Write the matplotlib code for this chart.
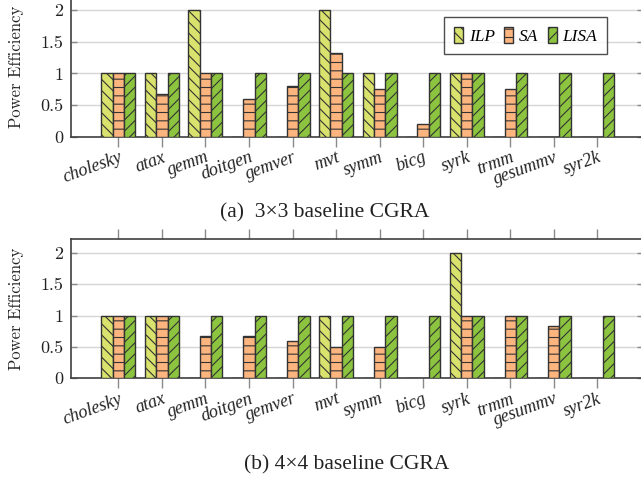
import numpy as np
import matplotlib
matplotlib.use("Agg")
from matplotlib import pyplot as plt
from matplotlib.transforms import ScaledTranslation

kernels = ["cholesky", "atax", "gemm", "doitgen", "gemver", "mvt",
           "symm", "bicg", "syrk", "trmm", "gesummv", "syr2k"]

# (a) 3x3 baseline CGRA
ilp_3x3 = [1, 1, 2, 0, 0, 2, 1, 0, 1, 0, 0, 0]
sa_3x3 = [1, 0.67, 1, 0.6, 0.8, 1.33, 0.75, 0.2, 1, 0.75, 0, 0]
lisa_3x3 = [1, 1, 1, 1, 1, 1, 1, 1, 1, 1, 1, 1]

# (b) 4x4 baseline CGRA
ilp_4x4 = [1, 1, 0, 0, 0, 1, 0, 0, 2, 0, 0, 0]
sa_4x4 = [1, 1, 0.67, 0.67, 0.6, 0.5, 0.5, 0, 1, 1, 0.83, 0]
lisa_4x4 = [1, 1, 1, 1, 1, 1, 1, 1, 1, 1, 1, 1]

yticks = [0, 0.5, 1, 1.5, 2]
ytick_labels = ["0", "0.5", "1", "1.5", "2"]

series = ["ILP", "SA", "LISA"]
colors = ["#d8e26c", "#fcb57f", "#8cc43f"]
hatches = ["\\\\\\", "--", "///"]

plt.rcParams["hatch.linewidth"] = 0.8
plt.rcParams["hatch.color"] = "#333333"

W, H = 641, 484
fig = plt.figure(figsize=(W / 100, H / 100), dpi=100)

edge = "#333333"
spine_col = "#404040"
tick_col = "#8a8a8a"
x = np.arange(len(kernels))
bw = 0.26


def panel(ax, data):
    for i, (vals, col, h, name) in enumerate(zip(data, colors, hatches, series)):
        ax.bar(x + (i - 1) * bw, vals, bw, color=col, edgecolor=edge,
               linewidth=1.0, hatch=h, label=name, zorder=3)
    ax.set_xlim(-1.1, 12.05)
    ax.set_ylim(0, 2.22)
    ax.set_yticks(yticks)
    ax.set_yticklabels(ytick_labels, fontfamily="cmr10", fontsize=13)
    ax.set_xticks(x)
    ax.set_xticklabels(kernels, rotation=20, ha="right", va="top",
                       rotation_mode="anchor", fontfamily="Liberation Serif",
                       style="italic", fontsize=13)
    lab = ax.get_xticklabels()[kernels.index("gesummv")]
    lab.set_transform(lab.get_transform() + ScaledTranslation(-0.05, -0.10, fig.dpi_scale_trans))
    ax.tick_params(axis="x", direction="out", length=7.2, width=1, color=tick_col,
                   top=True, pad=1.5, labelcolor="#222222")
    ax.tick_params(axis="y", direction="in", length=4, width=1, color=tick_col,
                   right=True, pad=5, labelcolor="#222222")
    ax.yaxis.grid(True, color="#d6d6d6", linewidth=1)
    ax.set_axisbelow(True)
    for s in ax.spines.values():
        s.set_color(spine_col)
        s.set_linewidth(1.2)
    ax.set_ylabel("Power Efficiency", fontfamily="cmr10", fontsize=12, color="#222222")
    ax.yaxis.set_label_coords(-0.081, 0.5)


left = 70.5 / W
width = (643 - 70.5) / W

ax1 = fig.add_axes([left, (H - 136.7) / H, width, 140.5 / H])
panel(ax1, [ilp_3x3, sa_3x3, lisa_3x3])
leg = ax1.legend(loc="upper right", bbox_to_anchor=(0.937, 0.852), ncol=3,
                 frameon=True, fancybox=False, edgecolor="#222222",
                 borderaxespad=0, handlelength=0.5, handleheight=1.1,
                 handletextpad=0.35, columnspacing=0.55, borderpad=0.55,
                 prop={"family": "Liberation Serif", "style": "italic", "size": 12.5})
leg.get_frame().set_linewidth(1.0)

ax2 = fig.add_axes([left, (H - 378.3) / H, width, 139.3 / H])
panel(ax2, [ilp_4x4, sa_4x4, lisa_4x4])

fig.text(324.5 / W, 1 - 213 / H, "(a)  3×3 baseline CGRA", ha="center", va="center",
         fontfamily="Liberation Serif", fontsize=15.5, color="#222222")
fig.text(347 / W, 1 - 465 / H, "(b) 4×4 baseline CGRA", ha="center", va="center",
         fontfamily="Liberation Serif", fontsize=15.5, color="#222222")

fig.savefig("out.png", dpi=100)
